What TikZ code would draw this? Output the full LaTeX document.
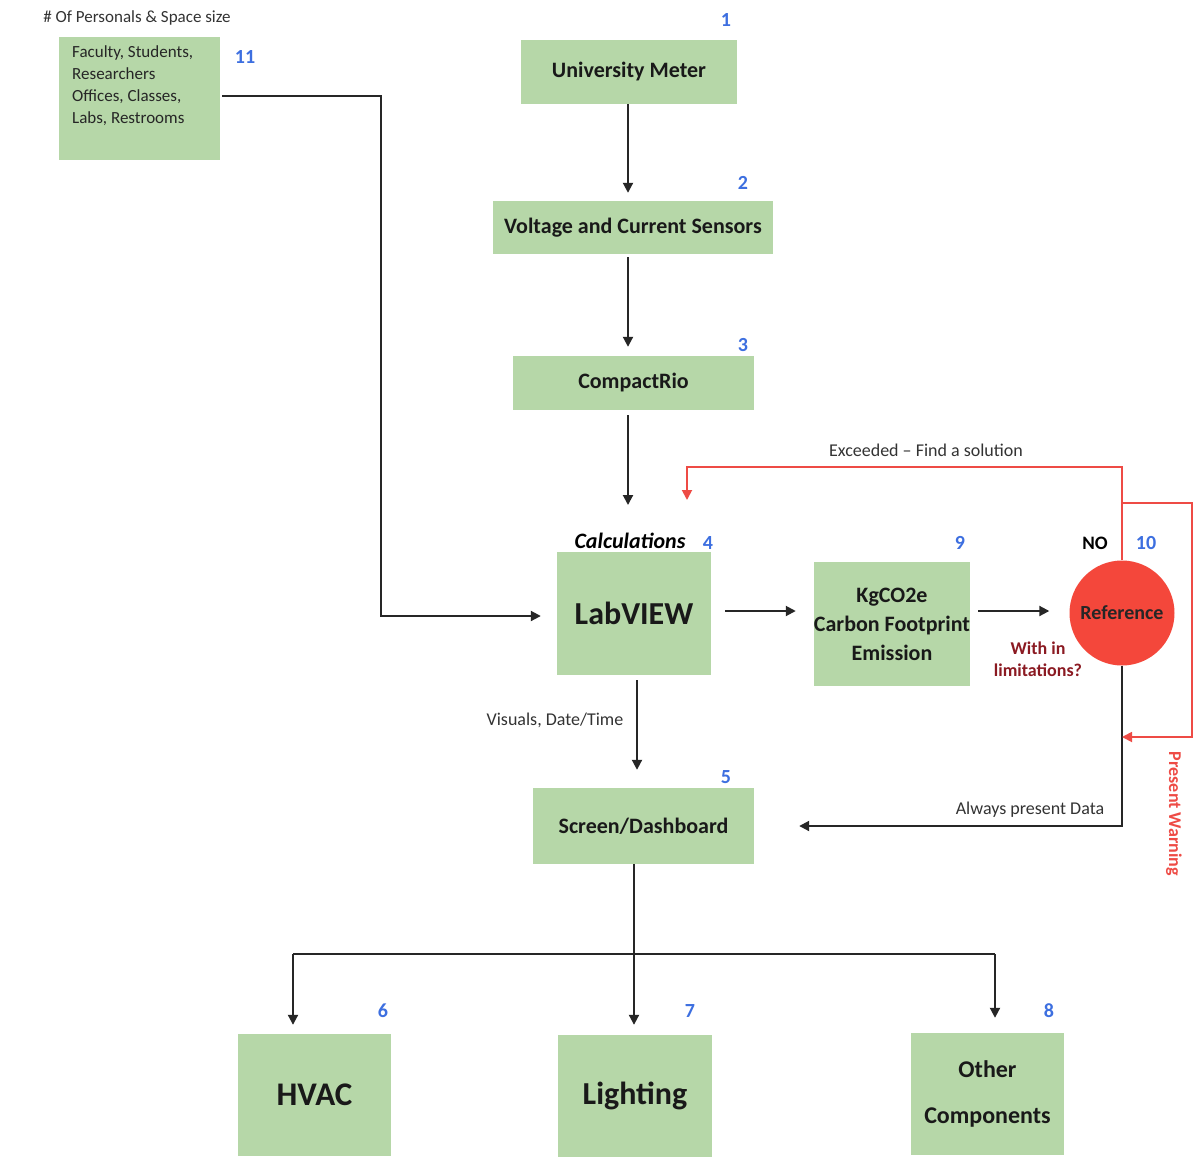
\documentclass[tikz,border=0pt]{standalone}
\usepackage{fontspec}
\setmainfont{Carlito}
\usetikzlibrary{arrows.meta}
\definecolor{boxgreen}{HTML}{B6D7A8}
\definecolor{numblue}{HTML}{3D6FE0}
\definecolor{warnred}{HTML}{EE4B45}
\definecolor{circred}{HTML}{F4473B}
\definecolor{darkred}{HTML}{8B1A22}
\newcommand{\fsz}[2]{\fontsize{#1}{#2}\selectfont}
\tikzset{
  box/.style={fill=boxgreen, draw=none, inner sep=0pt, align=center, font=\bfseries, text=black!90},
  num/.style={text=numblue, font=\bfseries\fsz{20}{22}, inner sep=0pt},
  lbl/.style={font=\fsz{18}{20}, text=black!80, inner sep=0pt},
  conn/.style={draw=black!85, line width=2pt, -{Triangle[width=10pt,length=10pt]}},
  plain/.style={draw=black!85, line width=2pt},
  redconn/.style={draw=warnred, line width=1.8pt, -{Triangle[width=10pt,length=10pt]}},
}
\begin{document}
\begin{tikzpicture}[x=1pt,y=-1pt]
\useasboundingbox (0,0) rectangle (1195,1176);
\fill[white] (0,0) rectangle (1195,1176);

% boxes
\node[box, minimum width=161, minimum height=123] (b11) at (139.5,98.5) {};
\node[lbl, anchor=north west, align=left, font=\fsz{17}{22}, text=black!85] (t11) at (72,45) {Faculty, Students,\\Researchers\\Offices, Classes,\\Labs, Restrooms};
\node[lbl, font=\fsz{17}{20}] (h11) at (137,18) {\# Of Personals \& Space size};

\node[box, minimum width=216, minimum height=64, font=\bfseries\fsz{22}{24}] (b1) at (629,72) {University Meter};
\node[box, minimum width=280, minimum height=53, font=\bfseries\fsz{22}{24}] (b2) at (633,227.5) {Voltage and Current Sensors};
\node[box, minimum width=241, minimum height=54, font=\bfseries\fsz{22}{24}] (b3) at (633.5,383) {CompactRio};
\node[box, minimum width=154, minimum height=123, font=\bfseries\fsz{32}{34}] (b4) at (634,613.5) {LabVIEW};
\node[font=\bfseries\itshape\fsz{22}{24}, inner sep=0pt] (calc) at (630,541) {Calculations};
\node[box, minimum width=154, minimum height=124, font=\bfseries\fsz{22}{29}] (b9) at (892,624) {KgCO2e\\Carbon Footprint\\Emission};
\node[circle, fill=circred, minimum size=105, inner sep=0pt, font=\bfseries\fsz{20}{22}, text=black!85] (ref) at (1122,613) {Reference};
\node[box, minimum width=221, minimum height=76, font=\bfseries\fsz{22}{24}] (b5) at (643.5,826) {Screen/Dashboard};
\node[box, minimum width=153, minimum height=122, font=\bfseries\fsz{33}{35}] (b6) at (314.5,1095) {HVAC};
\node[box, minimum width=154, minimum height=122, font=\bfseries\fsz{32}{34}] (b7) at (635,1096) {Lighting};
\node[box, minimum width=153, minimum height=122, font=\bfseries\fsz{24}{46}] (b8) at (987.5,1094) {Other\\Components};

% numbers
\node[num] (n1) at (726,20) {1};
\node[num] (n2) at (743,183) {2};
\node[num] (n3) at (743,345) {3};
\node[num] (n4) at (708,543) {4};
\node[num] (n5) at (726,777) {5};
\node[num] (n6) at (383,1011) {6};
\node[num] (n7) at (690,1011) {7};
\node[num] (n8) at (1049,1011) {8};
\node[num] (n9) at (960,543) {9};
\node[num] (n10) at (1146,543) {10};
\node[num] (n11) at (245,57) {11};
\node[font=\bfseries\fsz{19}{20}, inner sep=0pt] (no) at (1095,543) {NO};

% labels
\node[font=\bfseries\fsz{18}{22}, text=darkred, align=center, inner sep=0pt] (lim) at (1038,659) {With in\\limitations?};
\node[lbl] (vis) at (555,720) {Visuals, Date/Time};
\node[lbl] (alw) at (1030,810) {Always present Data};
\node[lbl] (exl) at (926,450) {Exceeded -- Find a solution};
\node[font=\bfseries\fsz{18}{20}, text=warnred, rotate=-90, inner sep=0pt] (pw) at (1174,814) {Present Warning};

% coordinates
\coordinate (c4in) at (628,505);
\coordinate (exc) at (687,500);
\coordinate (j6) at (293,954);
\coordinate (j8) at (995,954);

% connectors
\draw[conn, shorten >=8pt] (b1.south -| c4in) -- (b2.north -| c4in);
\draw[conn, shorten <=3pt, shorten >=9pt] (b2.south -| c4in) -- (b3.north -| c4in);
\draw[conn, shorten <=5pt] (b3.south -| c4in) -- (c4in);
\draw[conn, shorten <=2pt, shorten >=16pt] (b11.east |- 0,96) -| (381,616) -- (b4.west |- 0,616);
\draw[conn, shorten <=14pt, shorten >=18pt] (b4.east |- 0,611) -- (b9.west |- 0,611);
\draw[conn, shorten <=8pt, shorten >=20pt] (b9.east |- 0,611) -- (ref.west |- 0,611);
\draw[conn, shorten <=5pt, shorten >=18pt] (b4.south -| 637,0) -- (b5.north -| 637,0);
\draw[conn, shorten >=45pt] (ref.south) |- (b5.east);
\draw[redconn] (ref.north) -- (ref.north |- 0,467) -| (exc);
\draw[redconn] (ref.north |- 0,503) -| (1192,737) -- (ref.south |- 0,737);
\draw[conn, shorten >=10pt] (b5.south -| 634,0) -- (b7.north -| 634,0);
\draw[plain] (j6) -- (j8);
\draw[conn, shorten >=9pt] (j6) -- (j6 |- b6.north);
\draw[conn, shorten >=15pt] (j8) -- (j8 |- b8.north);
\end{tikzpicture}
\end{document}
